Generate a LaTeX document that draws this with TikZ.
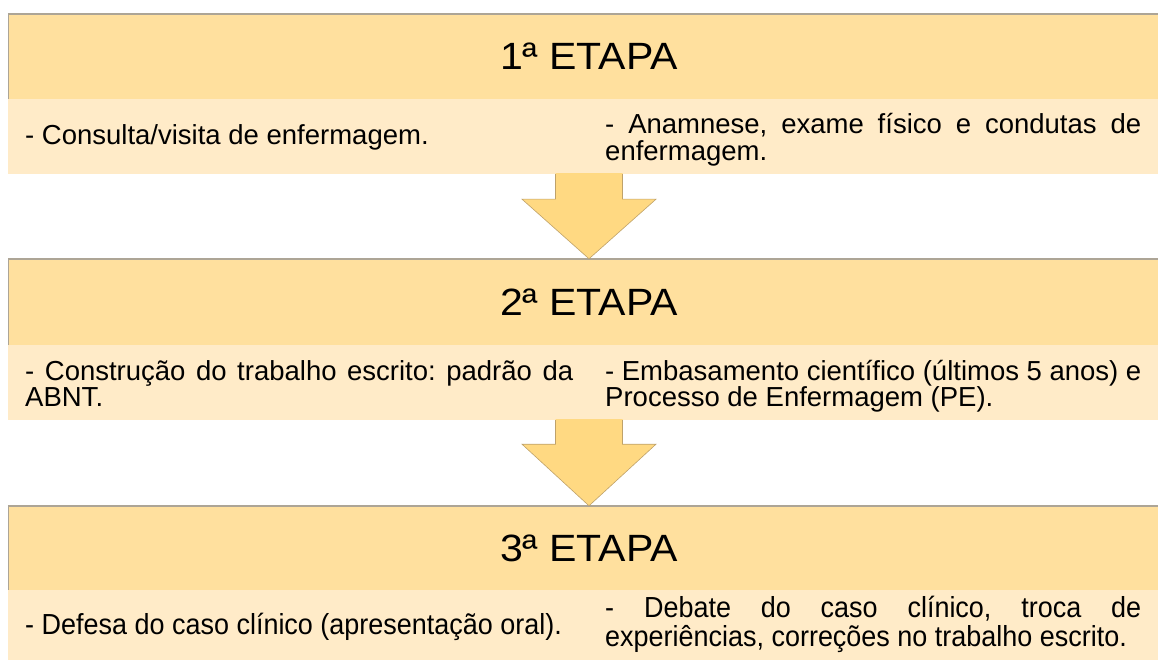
\documentclass[tikz,border=0pt]{standalone}
\usepackage{fontspec}
\setmainfont{Liberation Sans}
\newfontfamily\hdrfont[FakeStretch=1.08]{Liberation Sans}
\newfontfamily\narrowfont[FakeStretch=0.93]{Liberation Sans}
\usetikzlibrary{calc}
\hyphenpenalty=10000
\exhyphenpenalty=10000
\frenchspacing
\definecolor{hdrfill}{HTML}{FFE09E}
\definecolor{bodyfill}{HTML}{FFEBC8}
\definecolor{arrfill}{HTML}{FFD982}
\definecolor{arrline}{HTML}{BFA26A}
\definecolor{topline}{HTML}{ADA596}
\tikzset{
  hdrbox/.style={fill=hdrfill, draw=none, inner sep=0pt, minimum width=1162pt,
    font=\hdrfont\fontsize{38}{42}\selectfont},
  bodybox/.style={fill=bodyfill, draw=none, inner sep=0pt, minimum width=1162pt, minimum height=75pt},
  coltext/.style={anchor=base west, inner sep=0pt, align=justify,
    font=\fontsize{27.5}{26.5}\selectfont},
  narrowtext/.style={coltext, font=\narrowfont\fontsize{29}{29.5}\selectfont},
  hdredge/.style={draw=topline, line width=1.6pt},
  hdrside/.style={draw=topline, line width=0.6pt},
  flowfill/.style={fill=arrfill, draw=none},
  flowedge/.style={draw=arrline, line width=0.6pt, line join=miter},
}
\begin{document}
\begin{tikzpicture}[x=1pt, y=-1pt]
\useasboundingbox (0,0) rectangle (1158,660);
\clip (0,0) rectangle (1158,660);

% stage boxes
\node[hdrbox, minimum height=85pt] (h1) at (589,56.5) {1ª ETAPA};
\node[bodybox] (b1) at (589,136.5) {};
\node[hdrbox, minimum height=86pt] (h2) at (589,302) {2ª ETAPA};
\node[bodybox] (b2) at (589,382.5) {};
\node[hdrbox, minimum height=84pt] (h3) at (589,548) {3ª ETAPA};
\node[bodybox] (b3) at (589,627.5) {};

% header edges
\foreach \h in {h1,h2,h3}{
  \draw[hdrside] (\h.north west) -- (\h.south west);
  \draw[hdredge] (\h.north west) -- (\h.north east);
}

% texts
\node[coltext] (t1l) at (25,145) {- Consulta/visita de enfermagem.};
\node[coltext, text width=536pt] (t1r) at (605,134)
  {- Anamnese, exame físico e condutas de enfermagem.};
\node[coltext, text width=548pt] (t2l) at (25,380)
  {- Construção do trabalho escrito: padrão da ABNT.};
\node[coltext, text width=536pt] (t2r) at (605,380)
  {- Embasamento científico (últimos 5 anos) e Processo de Enfermagem (PE).};
\node[narrowtext] (t3l) at (25,634) {- Defesa do caso clínico (apresentação oral).};
\node[narrowtext, text width=536pt] (t3r) at (605,617)
  {- Debate do caso clínico, troca de experiências, correções no trabalho escrito.};

% block arrows between stages
\foreach \b/\h/\s in {b1/h2/25, b2/h3/24}{
  \fill[flowfill] ($(\b.south)+(-33.5,-1)$) -- ($(\b.south)+(33.5,-1)$)
    -- ($(\b.south)+(33.5,\s)$) -- ($(\b.south)+(67,\s)$) -- (\h.north)
    -- ($(\b.south)+(-67,\s)$) -- ($(\b.south)+(-33.5,\s)$) -- cycle;
  \draw[flowedge] ($(\b.south)+(33.5,0)$)
    -- ($(\b.south)+(33.5,\s)$) -- ($(\b.south)+(67,\s)$) -- (\h.north)
    -- ($(\b.south)+(-67,\s)$) -- ($(\b.south)+(-33.5,\s)$) -- ($(\b.south)+(-33.5,0)$);
}
\end{tikzpicture}
\end{document}
